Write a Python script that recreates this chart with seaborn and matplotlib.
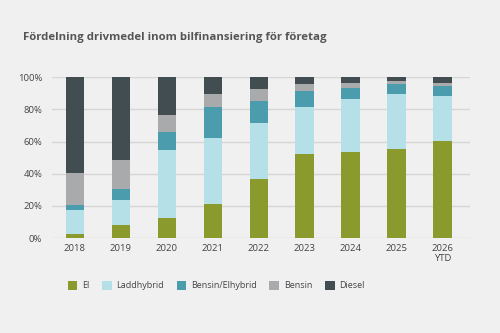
import numpy as np
import pandas as pd
import matplotlib
matplotlib.use('Agg')
import matplotlib.pyplot as plt
import seaborn as sns
from matplotlib.patches import Patch

# data (andelar i %)
years = ['2018', '2019', '2020', '2021', '2022', '2023', '2024', '2025', '2026\nYTD']
el = [2.7, 7.9, 12.2, 21.3, 36.6, 52.0, 53.4, 55.7, 60.2]
laddhybrid = [14.5, 15.9, 42.5, 41.0, 34.8, 29.8, 33.1, 33.9, 28.0]
bensin_elhybrid = [3.1, 6.8, 11.3, 18.9, 14.1, 9.5, 6.7, 6.1, 6.2]
bensin = [20.3, 18.1, 10.8, 8.4, 7.3, 4.6, 3.3, 1.8, 2.1]
diesel = [59.4, 51.3, 23.2, 10.4, 7.2, 4.1, 3.5, 2.5, 3.5]

series = ['El', 'Laddhybrid', 'Bensin/Elhybrid', 'Bensin', 'Diesel']
colors = ['#8b9a2c', '#b6e0e7', '#4b9cad', '#a8aaac', '#424d52']
bg = '#f0f0f0'

df = pd.DataFrame({'year': years, 'El': el, 'Laddhybrid': laddhybrid,
                   'Bensin/Elhybrid': bensin_elhybrid, 'Bensin': bensin, 'Diesel': diesel})
cum = df[series].cumsum(axis=1)
cum['year'] = df['year']

sns.set_style('white')
plt.rcParams['font.family'] = ['Open Sans', 'DejaVu Sans']

fig = plt.figure(figsize=(5, 3.33), dpi=100, facecolor=bg)
ax = fig.add_axes([0.104, 0.285, 0.836, 0.483], facecolor=bg)

# rita kumulativa staplar bakifrån (Diesel först)
for name, col in reversed(list(zip(series, colors))):
    sns.barplot(data=cum, x='year', y=name, color=col, width=0.4,
                saturation=1, ax=ax, zorder=3, edgecolor='none', linewidth=0)

ax.set_ylim(0, 100)
ax.set_xlim(-0.5, 8.6)
ax.set_yticks(range(0, 101, 20))
ax.set_yticklabels([f'{v}%' for v in range(0, 101, 20)])
ax.set_xlabel('')
ax.set_ylabel('')
ax.grid(axis='y', color='#d6d6d6', linewidth=1, zorder=0)
for s in ax.spines.values():
    s.set_visible(False)
ax.tick_params(axis='both', length=0, labelsize=6.8, colors='#444444')
ax.tick_params(axis='x', pad=4)
ax.tick_params(axis='y', pad=7)

fig.text(0.046, 0.886, 'Fördelning drivmedel inom bilfinansiering för företag',
         fontsize=8.2, fontweight='bold', color='#555555', va='center')

handles = [Patch(facecolor=c, edgecolor='none') for c in colors]
fig.legend(handles, series, loc='center left', bbox_to_anchor=(0.135, 0.142),
           ncol=5, frameon=False, fontsize=6.5, handlelength=1.1, handleheight=1.1,
           columnspacing=1.4, handletextpad=0.5, labelcolor='#444444',
           borderpad=0, borderaxespad=0)

fig.savefig('out.png', dpi=100, facecolor=bg)
